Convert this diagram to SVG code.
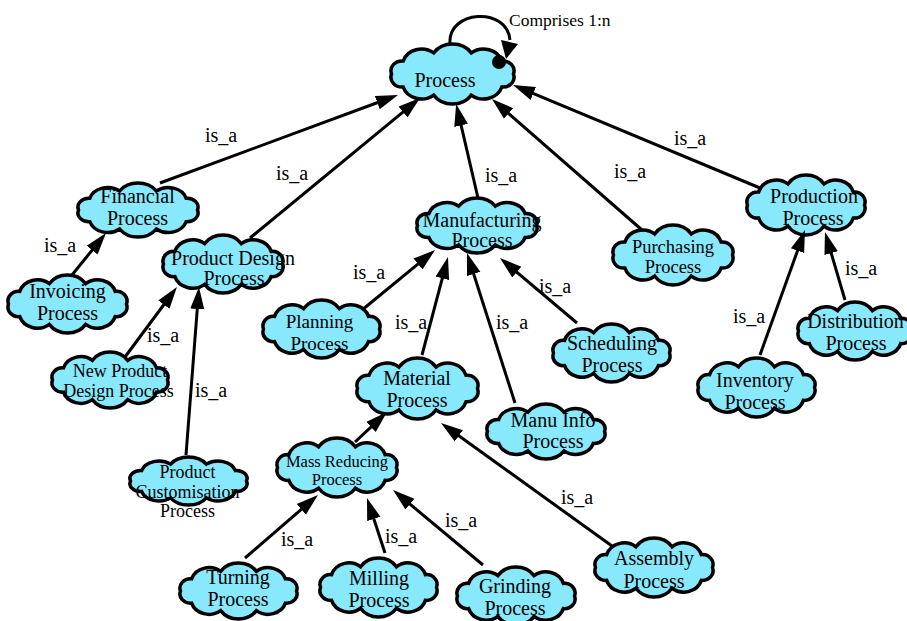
<svg xmlns="http://www.w3.org/2000/svg" xmlns:xlink="http://www.w3.org/1999/xlink" width="907" height="621" viewBox="0 0 907 621">
<style>
.cloud{fill:#88e9fd;stroke:#000;stroke-width:3.5;vector-effect:non-scaling-stroke}
.t{font-family:"Liberation Serif","Times New Roman",serif;font-size:20px;text-anchor:middle;fill:#000}
.lbl{font-family:"Liberation Serif","Times New Roman",serif;font-size:20px;fill:#000}
.e{fill:none;stroke:#000;stroke-width:3;marker-end:url(#arr)}
</style>
<defs>
<path id="cloud" class="cloud" d="M46,0 A8.5,8.5 0 0 1 37.2,11.2 A14.4,14.4 0 0 1 14.2,18.1 A17,17 0 0 1 -14.2,18.1 A14.4,14.4 0 0 1 -37.2,11.2 A8.5,8.5 0 0 1 -46,0 A8.5,8.5 0 0 1 -37.2,-11.2 A14.4,14.4 0 0 1 -14.2,-18.1 A17,17 0 0 1 14.2,-18.1 A14.4,14.4 0 0 1 37.2,-11.2 A8.5,8.5 0 0 1 46,0 Z"/>
<marker id="arr" markerUnits="userSpaceOnUse" markerWidth="24" markerHeight="16" viewBox="0 -8 24 16" refX="12" refY="0" orient="auto">
<path d="M0,-7 L22,0 L0,7 Z" fill="#000"/>
</marker>
</defs>

<g id="nodes">
<g id="n-process"><use href="#cloud" transform="translate(452.5,74) scale(1.325,1.165)"/><text class="t" x="445" y="87">Process</text></g>
<g id="n-financial"><use href="#cloud" transform="translate(138,210) scale(1.293,1.049)"/><text class="t" x="137.5" y="203">Financial</text><text class="t" x="137.5" y="225">Process</text></g>
<g id="n-invoicing"><use href="#cloud" transform="translate(67.5,304) scale(1.282,1.126)"/><text class="t" x="67.5" y="298">Invoicing</text><text class="t" x="67.5" y="320">Process</text></g>
<g id="n-productdesign"><use href="#cloud" transform="translate(223,264) scale(1.293,1.126)"/><text class="t" x="233" y="265">Product Design</text><text class="t" x="234" y="285">Process</text></g>
<g id="n-newproduct"><use href="#cloud" transform="translate(110,380) scale(1.25,1.087)"/><text class="t" x="120" y="377" style="font-size:18px">New Product</text><text class="t" x="118.5" y="397" style="font-size:18px">Design Process</text></g>
<g id="n-customisation"><use href="#cloud" transform="translate(188.5,481) scale(1.261,0.932)"/><text class="t" x="187.5" y="478" style="font-size:18px">Product</text><text class="t" x="187.5" y="498" style="font-size:18px">Customisation</text><text class="t" x="187.5" y="517" style="font-size:18px">Process</text></g>
<g id="n-manufacturing"><use href="#cloud" transform="translate(477,225.5) scale(1.293,1.068)"/><text class="t" x="482" y="227">Manufacturing</text><text class="t" x="482" y="247">Process</text></g>
<g id="n-purchasing"><use href="#cloud" transform="translate(673,255) scale(1.293,1.165)"/><text class="t" x="673" y="253" style="font-size:18.5px">Purchasing</text><text class="t" x="673" y="273" style="font-size:18.5px">Process</text></g>
<g id="n-production"><use href="#cloud" transform="translate(806,205) scale(1.272,1.165)"/><text class="t" x="814" y="203">Production</text><text class="t" x="813" y="225">Process</text></g>
<g id="n-distribution"><use href="#cloud" transform="translate(855,331) scale(1.228,1.126)"/><text class="t" x="855.5" y="328">Distribution</text><text class="t" x="856" y="350">Process</text></g>
<g id="n-inventory"><use href="#cloud" transform="translate(756.5,387.5) scale(1.261,1.146)"/><text class="t" x="755" y="387">Inventory</text><text class="t" x="755" y="409">Process</text></g>
<g id="n-planning"><use href="#cloud" transform="translate(321.5,329) scale(1.261,1.126)"/><text class="t" x="319.5" y="328" style="font-size:19px">Planning</text><text class="t" x="319.5" y="350" style="font-size:19px">Process</text></g>
<g id="n-scheduling"><use href="#cloud" transform="translate(611.5,353) scale(1.261,1.126)"/><text class="t" x="612" y="350">Scheduling</text><text class="t" x="612" y="372">Process</text></g>
<g id="n-material"><use href="#cloud" transform="translate(417.5,388.5) scale(1.304,1.184)"/><text class="t" x="417" y="385">Material</text><text class="t" x="417" y="407">Process</text></g>
<g id="n-manuinfo"><use href="#cloud" transform="translate(546,431.5) scale(1.272,1.068)"/><text class="t" x="553" y="427">Manu Info</text><text class="t" x="553" y="448">Process</text></g>
<g id="n-massreducing"><use href="#cloud" transform="translate(337,467.5) scale(1.293,1.146)"/><text class="t" x="337" y="467" style="font-size:16.5px">Mass Reducing</text><text class="t" x="337" y="485" style="font-size:16.5px">Process</text></g>
<g id="n-turning"><use href="#cloud" transform="translate(238.5,591) scale(1.261,1.087)"/><text class="t" x="238" y="584">Turning</text><text class="t" x="238" y="606">Process</text></g>
<g id="n-milling"><use href="#cloud" transform="translate(378.5,587.5) scale(1.261,1.146)"/><text class="t" x="379" y="585">Milling</text><text class="t" x="379" y="607">Process</text></g>
<g id="n-grinding"><use href="#cloud" transform="translate(516,596) scale(1.272,1.126)"/><text class="t" x="515" y="593">Grinding</text><text class="t" x="515" y="615">Process</text></g>
<g id="n-assembly"><use href="#cloud" transform="translate(654,567.5) scale(1.272,1.146)"/><text class="t" x="654" y="565">Assembly</text><text class="t" x="654" y="588">Process</text></g>
</g>

<g id="connectors">
<path class="e" d="M160,183 L388.6,98.5"/>
<path class="e" d="M250,238 L412.3,104.4"/>
<path class="e" d="M478,198 L458.4,113.7"/>
<path class="e" d="M642,230 L499.5,105.6"/>
<path class="e" d="M760,188 L522.2,88.9"/>
<path class="e" d="M72,275 L99.7,240.8"/>
<path class="e" d="M125,357 L171,295"/>
<path class="e" d="M186,455 L198.2,297"/>
<path class="e" d="M362,310 L427.3,256.4"/>
<path class="e" d="M422,355 L445.4,266.7"/>
<path class="e" d="M515,403 L470,262.5"/>
<path class="e" d="M577,323 L507.6,264.4"/>
<path class="e" d="M760,355 L801.6,239.4"/>
<path class="e" d="M845,300 L827.8,241.6"/>
<path class="e" d="M355,442 L379.7,418.8"/>
<path class="e" d="M612,546 L449.1,428.8"/>
<path class="e" d="M245,558 L310.4,501.5"/>
<path class="e" d="M385,553 L370.1,507.5"/>
<path class="e" d="M483,565 L400.7,496.4"/>
<g id="self-loop">
<path d="M450,44 C447,10 507,6 510,40" fill="none" stroke="#000" stroke-width="3"/>
<polygon points="501,40 518,44 506,59" fill="#000"/>
<circle cx="499" cy="62" r="7" fill="#000"/>
</g>
<g id="labels">
<text class="lbl" x="509" y="26" style="font-size:17.5px">Comprises 1:n</text>
<text class="lbl" x="205" y="142">is_a</text>
<text class="lbl" x="276" y="180">is_a</text>
<text class="lbl" x="485" y="182">is_a</text>
<text class="lbl" x="614" y="178">is_a</text>
<text class="lbl" x="674" y="145">is_a</text>
<text class="lbl" x="44" y="252">is_a</text>
<text class="lbl" x="147" y="342">is_a</text>
<text class="lbl" x="195" y="397">is_a</text>
<text class="lbl" x="353" y="279">is_a</text>
<text class="lbl" x="395" y="329">is_a</text>
<text class="lbl" x="496" y="329">is_a</text>
<text class="lbl" x="539" y="293">is_a</text>
<text class="lbl" x="733" y="323">is_a</text>
<text class="lbl" x="845" y="275">is_a</text>
<text class="lbl" x="561" y="504">is_a</text>
<text class="lbl" x="281" y="546">is_a</text>
<text class="lbl" x="385" y="543">is_a</text>
<text class="lbl" x="445" y="527">is_a</text>
</g>
</g>
</svg>
